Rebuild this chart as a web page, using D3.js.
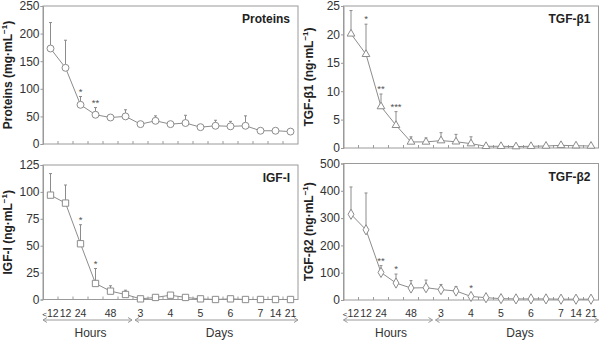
<!DOCTYPE html>
<html>
<head>
<meta charset="utf-8">
<script src="https://cdn.jsdelivr.net/npm/d3@7"></script>
<style>
  body { margin: 0; background: #fff; }
  svg { display: block; font-family: "Liberation Sans", Arial, sans-serif; }
</style>
</head>
<body>
<svg width="600" height="342"></svg>
<script>
// time points: first six in hours, then days
var times = ["<12","12","24","36","48","60","3","3.5","4","4.5","5","5.5","6","6.5","7","14","21"];
var timeLabels = ["<12","12","24","","48","","3","","4","","5","","6","","7","14","21"];

var proteinsMean = [173,138,71,53,48,50,36,42,36,38,30.5,33,32,33,24,24,22.5];
var proteinsSD   = [47,50,15,13,0,12,0,9,0,14,0,10,9,18,0,0,0];
var proteinsSig  = ["","","*","**","","","","","","","","","","","","",""];

var tgfb1Mean = [20.1,16.5,7.3,4.0,1.07,1.07,1.3,1.1,0.77,0.3,0.3,0.25,0.3,0.35,0.47,0.4,0.35];
var tgfb1SD   = [4.1,5.3,2.2,2.4,0.9,0.7,1.4,1.3,1.2,0,0,0,0,0,0,0,0];
var tgfb1Sig  = ["","*","**","***","","","","","","","","","","","","",""];

var igfMean = [97,89.6,51.8,14.9,7.75,4.65,0.6,1.9,4.0,1.9,0.6,0,0.6,0,0,0,0];
var igfSD   = [20,16.8,17.7,13.9,5,4,0,0,0,0,0,0,0,0,0,0,0];
var igfSig  = ["","","*","*","","","","","","","","","","","","",""];

var tgfb2Mean = [314,257,101,62,44,45,38,33,13,8.5,5,4,4,4,3,3,3];
var tgfb2SD   = [100,135,25,33,27,28,19,16,0,0,0,0,0,0,0,0,0];
var tgfb2Sig  = ["","","**","*","","","","","*","","","","","","","",""];

var svg = d3.select("svg");
var gray = "#8c8c8c";

var panels = [
  {name:"Proteins", label:"Proteins (mg·mL", mean:proteinsMean, sd:proteinsSD, sig:proteinsSig,
   max:250, step:50, sym:d3.symbolCircle, size:38, x0:43, x1:298, y0:6, y1:144, bottom:false},
  {name:"TGF-β1", label:"TGF-β1 (ng·mL", mean:tgfb1Mean, sd:tgfb1SD, sig:tgfb1Sig,
   max:25, step:5, sym:d3.symbolTriangle, size:26, x0:343.5, x1:598.5, y0:6, y1:148, bottom:false},
  {name:"IGF-I", label:"IGF-I (ng·mL", mean:igfMean, sd:igfSD, sig:igfSig,
   max:125, step:25, sym:d3.symbolSquare, size:40, x0:43, x1:298, y0:165, y1:299.5, bottom:true},
  {name:"TGF-β2", label:"TGF-β2 (ng·mL", mean:tgfb2Mean, sd:tgfb2SD, sig:tgfb2Sig,
   max:500, step:100, sym:d3.symbolDiamond, size:30, x0:343.5, x1:598.5, y0:163.5, y1:300, bottom:true}
];

panels.forEach(function(p) {
  var x = d3.scaleBand().domain(times).range([p.x0, p.x1]);
  var cx = function(d) { return x(d) + x.bandwidth() / 2; };
  var y = d3.scaleLinear().domain([0, p.max]).range([p.y1, p.y0]);
  var g = svg.append("g");

  // frame
  g.append("rect")
    .attr("x", p.x0).attr("y", p.y0)
    .attr("width", p.x1 - p.x0).attr("height", p.y1 - p.y0)
    .attr("fill", "none").attr("stroke", "#9a9a9a").attr("stroke-width", 1);

  // y axis
  var ya = g.append("g")
    .attr("transform", "translate(" + p.x0 + ",0)")
    .call(d3.axisLeft(y).tickValues(d3.range(0, p.max + 1, p.step)).tickSize(2.5).tickPadding(1));
  ya.select(".domain").attr("stroke", "#9a9a9a");
  ya.selectAll(".tick line").attr("stroke", "#9a9a9a");
  ya.selectAll("text").attr("font-size", 12).attr("fill", "#333")
    .attr("font-family", "Liberation Sans, Arial, sans-serif");

  // inner x ticks at band boundaries
  g.selectAll(".xt").data(times.slice(1)).enter().append("line")
    .attr("x1", function(d) { return x(d); }).attr("x2", function(d) { return x(d); })
    .attr("y1", p.y1).attr("y2", p.y1 - 3)
    .attr("stroke", "#9a9a9a");

  // error bars (upper only)
  var idx = d3.range(times.length).filter(function(i) { return p.sd[i] > 0; });
  g.selectAll(".err").data(idx).enter().append("line")
    .attr("x1", function(i) { return cx(times[i]); })
    .attr("x2", function(i) { return cx(times[i]); })
    .attr("y1", function(i) { return y(p.mean[i]); })
    .attr("y2", function(i) { return y(p.mean[i] + p.sd[i]); })
    .attr("stroke", gray);
  g.selectAll(".cap").data(idx).enter().append("line")
    .attr("x1", function(i) { return cx(times[i]) - 1.5; })
    .attr("x2", function(i) { return cx(times[i]) + 1.5; })
    .attr("y1", function(i) { return y(p.mean[i] + p.sd[i]); })
    .attr("y2", function(i) { return y(p.mean[i] + p.sd[i]); })
    .attr("stroke", gray);

  // line
  var line = d3.line()
    .x(function(d, i) { return cx(times[i]); })
    .y(function(d) { return y(d); });
  g.append("path").datum(p.mean)
    .attr("d", line).attr("fill", "none").attr("stroke", gray).attr("stroke-width", 1);

  // markers
  g.selectAll(".pt").data(p.mean).enter().append("path")
    .attr("transform", function(d, i) { return "translate(" + cx(times[i]) + "," + y(d) + ")"; })
    .attr("d", d3.symbol().type(p.sym).size(p.size))
    .attr("fill", "#fff").attr("stroke", gray).attr("stroke-width", 1);

  // significance stars
  g.selectAll(".sig").data(p.sig).enter().append("text")
    .attr("x", function(d, i) { return cx(times[i]); })
    .attr("y", function(d, i) { return y(p.mean[i] + p.sd[i]) - (p.sd[i] > 0 ? 2 : 5); })
    .attr("text-anchor", "middle").attr("font-size", 9.5).attr("fill", "#555")
    .text(function(d) { return d; });

  // title
  g.append("text")
    .attr("x", p.x1 - 8).attr("y", p.y0 + 17)
    .attr("text-anchor", "end").attr("font-size", 12).attr("font-weight", "bold").attr("fill", "#222")
    .text(p.name);

  // y label
  var lx = p.x0 - 31, ly = (p.y0 + p.y1) / 2;
  var t = g.append("text")
    .attr("transform", "translate(" + lx + "," + ly + ") rotate(-90)")
    .attr("text-anchor", "middle").attr("font-size", 12).attr("font-weight", "bold").attr("fill", "#222");
  t.append("tspan").text(p.label);
  t.append("tspan").attr("dy", -5).attr("font-size", 8).text("−1");
  t.append("tspan").attr("dy", 5).text(")");

  if (p.bottom) {
    var xl = g.selectAll(".xl").data(times).enter().append("text")
      .attr("x", function(d) { return cx(d); })
      .attr("y", p.y1 + 17)
      .attr("text-anchor", "middle").attr("font-size", 10.5).attr("fill", "#333");
    xl.each(function(d, i) {
      var lab = timeLabels[i], el = d3.select(this);
      if (lab.charAt(0) === "<") {
        el.append("tspan").attr("font-size", 8).text("<");
        el.append("tspan").text(lab.slice(1));
      } else {
        el.text(lab);
      }
    });

    var ay = 320;
    var segs = [
      {a: p.x0, b: x("3") - 1, label: "Hours"},
      {a: x("3") + 2, b: p.x1, label: "Days"}
    ];
    segs.forEach(function(s) {
      g.append("line").attr("x1", s.a).attr("x2", s.b).attr("y1", ay).attr("y2", ay)
        .attr("stroke", "#9a9a9a");
      g.append("path")
        .attr("d", "M" + (s.a + 4) + "," + (ay - 2.5) + "L" + s.a + "," + ay + "L" + (s.a + 4) + "," + (ay + 2.5) +
                   "M" + (s.b - 4) + "," + (ay - 2.5) + "L" + s.b + "," + ay + "L" + (s.b - 4) + "," + (ay + 2.5))
        .attr("fill", "none").attr("stroke", "#9a9a9a");
      g.append("text").attr("x", (s.a + s.b) / 2 + 3).attr("y", 337)
        .attr("text-anchor", "middle").attr("font-size", 12).attr("fill", "#333")
        .text(s.label);
    });
  }
});
</script>
</body>
</html>
